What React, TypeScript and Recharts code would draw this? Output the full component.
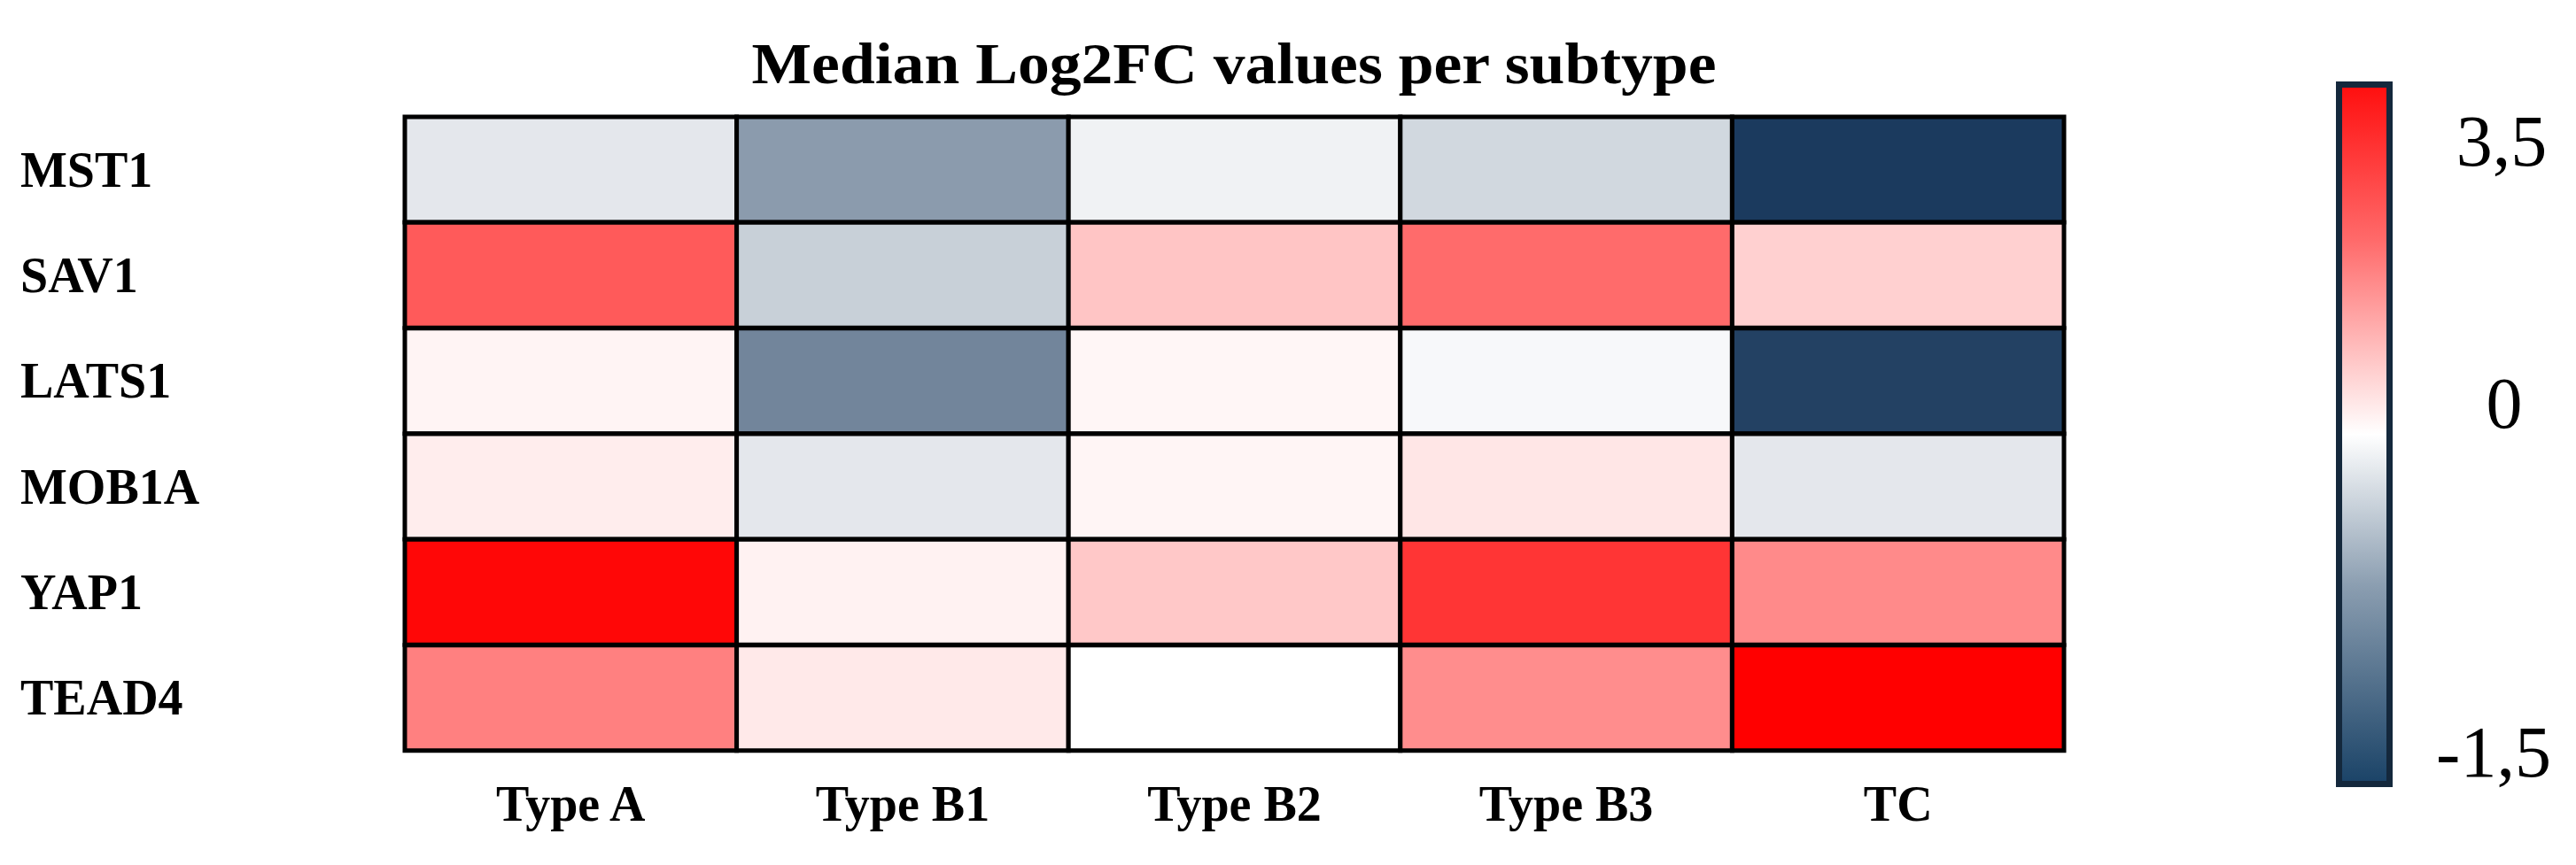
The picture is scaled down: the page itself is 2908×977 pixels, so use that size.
import * as React from "react"
import { BarChart, Bar, Cell, XAxis, YAxis } from "recharts"

// ── Data (median log2FC) ───────────────────────────────────────
const GENES = ["MST1", "SAV1", "LATS1", "MOB1A", "YAP1", "TEAD4"]
const SUBTYPES = ["Type A", "Type B1", "Type B2", "Type B3", "TC"]

const MST1 = [-0.18, -0.76, -0.1, -0.3, -1.5]
const SAV1 = [2.27, -0.36, 0.8, 2.03, 0.64]
const LATS1 = [0.15, -0.93, 0.12, -0.05, -1.45]
const MOB1A = [0.25, -0.18, 0.14, 0.35, -0.18]
const YAP1 = [3.4, 0.18, 0.76, 2.77, 1.6]
const TEAD4 = [1.75, 0.3, 0.0, 1.57, 3.5]
const VALUES = [MST1, SAV1, LATS1, MOB1A, YAP1, TEAD4]

const SCALE_MIN = -1.5
const SCALE_MAX = 3.5
const SCALE_TICKS = ["3,5", "0", "-1,5"]

// ── Colour scale ───────────────────────────────────────────────
const RED = [255, 0, 0]
const NAVY = [27, 58, 94]
const WHITE = [255, 255, 255]

function mix(a: number[], b: number[], t: number) {
  const c = a.map((v, i) => Math.round(v + (b[i] - v) * t))
  return `rgb(${c[0]},${c[1]},${c[2]})`
}

function colourFor(v: number) {
  if (v >= 0) return mix(WHITE, RED, Math.min(1, v / SCALE_MAX))
  return mix(WHITE, NAVY, Math.min(1, v / SCALE_MIN))
}

// each cell is one unit-long stacked segment; colour carries the value
const rows = GENES.map((gene) => {
  const row: Record<string, string | number> = { gene }
  SUBTYPES.forEach((_, c) => { row[`c${c}`] = 1 })
  return row
})

const FONT = "'Liberation Serif', 'Times New Roman', serif"

function GeneTick(props: any) {
  const { y, payload } = props
  return (
    <text x={23} y={y} dy={19} textAnchor="start" fontFamily={FONT} fontWeight={700} fontSize={56} fill="#000">
      {payload.value}
    </text>
  )
}

function SubtypeTick(props: any) {
  const { x, payload } = props
  return (
    <text x={x} y={927} textAnchor="middle" fontFamily={FONT} fontWeight={700} fontSize={56} fill="#000">
      {SUBTYPES[Math.floor(payload.value)]}
    </text>
  )
}

export default function App() {
  return (
    <div style={{ position: "fixed", left: 0, top: 0, width: 2908, height: 977, background: "#fff" }}>
      <svg width={2908} height={977} style={{ position: "absolute", left: 0, top: 0 }}>
        <text
          x={1393}
          y={94}
          textAnchor="middle"
          fontFamily={FONT}
          fontWeight={700}
          fontSize={66}
          textLength={1089}
          lengthAdjust="spacingAndGlyphs"
          fill="#000"
        >
          Median Log2FC values per subtype
        </text>
      </svg>
      <div style={{ position: "absolute", left: 0, top: 0 }}>
        <BarChart
          width={2908}
          height={977}
          data={rows}
          layout="vertical"
          barCategoryGap={0}
          margin={{ top: 132, right: 578, bottom: 0, left: 0 }}
        >
          <XAxis
            type="number"
            domain={[0, SUBTYPES.length]}
            ticks={SUBTYPES.map((_, i) => i + 0.5)}
            tick={<SubtypeTick />}
            axisLine={false}
            tickLine={false}
            height={129}
          />
          <YAxis
            type="category"
            dataKey="gene"
            tick={<GeneTick />}
            axisLine={false}
            tickLine={false}
            width={457}
          />
          {SUBTYPES.map((s, c) => (
            <Bar key={s} dataKey={`c${c}`} stackId="cells" stroke="#000" strokeWidth={5} isAnimationActive={false}>
              {GENES.map((g, r) => (
                <Cell key={g} fill={colourFor(VALUES[r][c])} />
              ))}
            </Bar>
          ))}
        </BarChart>
      </div>
      {/* colour bar */}
      <div style={{
        position: "absolute",
        left: 2637,
        top: 92,
        width: 50,
        height: 783,
        border: "7px solid #14283C",
        background: "linear-gradient(to bottom, #FF1010 0%, #FF6A6A 22%, #FFFFFF 50%, #8A9DB0 72%, #1C4468 100%)",
      }} />
      <svg width={2908} height={977} style={{ position: "absolute", left: 0, top: 0, pointerEvents: "none" }}>
        <text x={2824} y={187} textAnchor="middle" fontFamily={FONT} fontSize={82} fill="#000">{SCALE_TICKS[0]}</text>
        <text x={2827} y={483} textAnchor="middle" fontFamily={FONT} fontSize={82} fill="#000">{SCALE_TICKS[1]}</text>
        <text x={2815} y={877} textAnchor="middle" fontFamily={FONT} fontSize={82} fill="#000">{SCALE_TICKS[2]}</text>
      </svg>
    </div>
  )
}
